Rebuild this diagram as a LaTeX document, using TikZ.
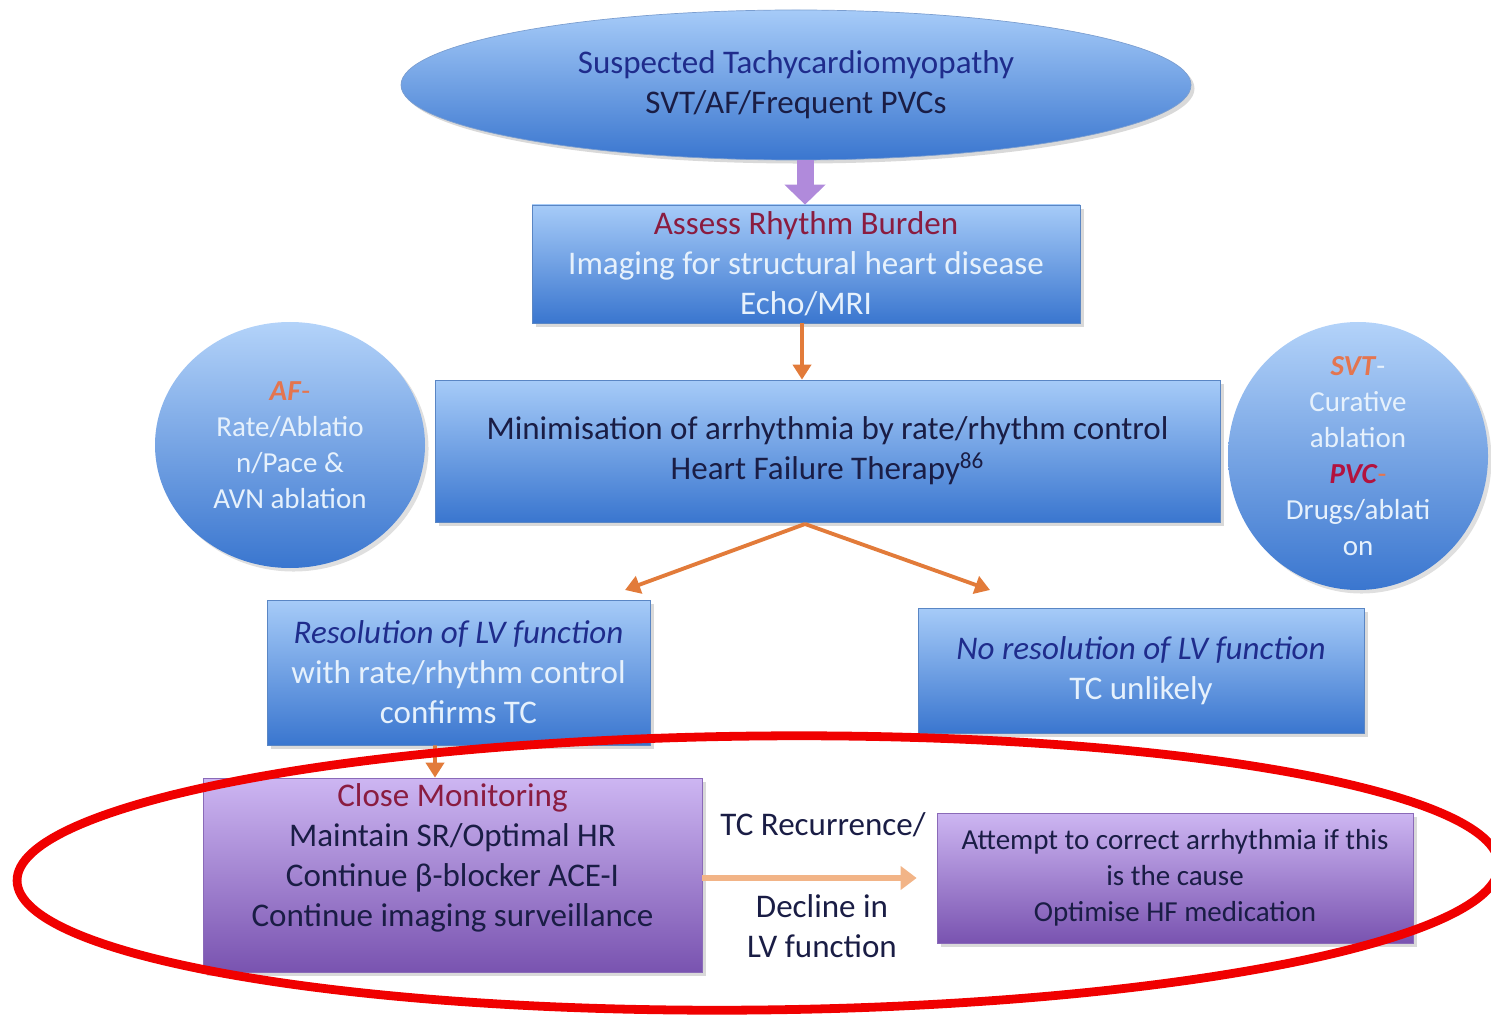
\documentclass[tikz,border=0pt]{standalone}
\usepackage{fontspec}
\setmainfont{Carlito}
\usetikzlibrary{arrows.meta,positioning,shadows,shapes.geometric}
\definecolor{boxtop}{HTML}{A6CBF8}
\definecolor{boxbot}{HTML}{3A76CF}
\definecolor{boxline}{HTML}{5A86C4}
\definecolor{liltop}{HTML}{CDB6F2}
\definecolor{lilbot}{HTML}{7953B0}
\definecolor{lilline}{HTML}{8A6AB8}
\definecolor{navy}{HTML}{1F2C8C}
\definecolor{ink}{HTML}{1A1D45}
\definecolor{maroon}{HTML}{8A1C40}
\definecolor{pale}{HTML}{E6F1FC}
\definecolor{coral}{HTML}{E4754F}
\definecolor{crimson}{HTML}{B3123E}
\definecolor{arrorange}{HTML}{E27B3A}
\definecolor{arrpeach}{HTML}{F2B487}
\definecolor{arrlilac}{HTML}{B08ADB}
\definecolor{marker}{HTML}{F00000}
\tikzset{
  main font/.style={font=\fontsize{18.8}{22.7}\selectfont},
  side font/.style={font=\fontsize{16.5}{20.4}\selectfont},
  blue box/.style={rectangle,top color=boxtop,bottom color=boxbot,draw=boxline,
    inner sep=0pt,align=center,main font,text=ink,
    drop shadow={shadow xshift=2pt,shadow yshift=-2pt,opacity=0.3}},
  lilac box/.style={blue box,top color=liltop,bottom color=lilbot,draw=lilline},
  side disc/.style={ellipse,top color=boxtop!85!white,bottom color=boxbot,draw=none,
    inner sep=-5mm,align=center,side font,text=pale,
    drop shadow={shadow xshift=2pt,shadow yshift=-2pt,opacity=0.25}},
  flow arrow/.style={-{Triangle[length=3mm,width=3.6mm]},arrorange,line width=2.2pt},
  lilac arrow/.style={-{Triangle[length=4mm,width=8mm]},arrlilac,line width=3.4mm},
  peach arrow/.style={-{Triangle[length=3.2mm,width=4.6mm]},arrpeach,line width=3pt},
  red ring/.style={marker,line width=5pt},
}

\begin{document}
\begin{tikzpicture}
  \useasboundingbox (0,0) rectangle (29.82,-20.30);
  % top of the flow
  \node[blue box,ellipse,minimum width=15.8cm,minimum height=3cm,draw=boxline!80]
    (suspect) at (15.92,-1.70)
    {\textcolor{navy}{Suspected Tachycardiomyopathy}\\SVT/AF/Frequent PVCs};
  \node[blue box,minimum width=10.96cm,minimum height=2.36cm] (assess) at (16.12,-5.28)
    {\textcolor{maroon}{Assess Rhythm Burden}\\
     \textcolor{pale}{Imaging for structural heart disease}\\
     \textcolor{pale}{Echo/MRI}};
  \node[blue box,minimum width=15.7cm,minimum height=2.84cm] (minim) at (16.55,-9.02)
    {Minimisation of arrhythmia by rate/rhythm control\\
     Heart Failure Therapy\textsuperscript{86}};
  \node[side disc,minimum width=5.4cm,minimum height=4.92cm] (afdisc) at (5.8,-8.9)
    {\textcolor{coral}{\textbf{\textit{AF}}-}\\Rate/Ablatio\\n/Pace \&\\AVN ablation};
  \node[side disc,minimum width=5.2cm,minimum height=5.36cm] (svtdisc) at (27.16,-9.12)
    {\textcolor{coral}{\textbf{\textit{SVT}}}-\\Curative\\ablation\\
     \textcolor{crimson}{\textbf{\textit{PVC}}}\textcolor{coral}{-}\\Drugs/ablati\\on};
  % outcomes
  \node[blue box,minimum width=7.66cm,minimum height=2.9cm] (resol) at (9.17,-13.45)
    {\textcolor{navy}{\textit{Resolution of LV function}}\\
     \textcolor{pale}{with rate/rhythm control}\\
     \textcolor{pale}{confirms TC}};
  \node[blue box,minimum width=8.92cm,minimum height=2.5cm] (noresol) at (22.82,-13.41)
    {\textcolor{navy}{\textit{No resolution of LV function}}\\
     \textcolor{pale}{TC unlikely}};
  \node[lilac box,minimum width=9.98cm,minimum height=3.88cm] (monitor) at (9.05,-17.5)
    {\textcolor{maroon}{Close Monitoring}\\
     Maintain SR/Optimal HR\\
     Continue β-blocker ACE-I\\
     Continue imaging surveillance\\\mbox{}};
  \node[lilac box,side font,minimum width=9.52cm,minimum height=2.6cm] (attempt) at (23.5,-17.56)
    {Attempt to correct arrhythmia if this\\is the cause\\Optimise HF medication};
  \node[main font,text=ink] (recur) at (16.46,-16.5) {TC Recurrence/};
  \node[main font,text=ink,align=center] (decline) at (16.44,-18.52) {Decline in\\LV function};
  % connectors
  \coordinate (split) at (16.1,-10.48);
  \coordinate (resoltip) at (12.5,-11.8);
  \coordinate (noresoltip) at (19.8,-11.8);
  \draw[lilac arrow] ([xshift=1.8mm]suspect.south) -- ([xshift=1.8mm]suspect.south |- assess.north);
  \draw[flow arrow] ([xshift=-0.08cm]assess.south) -- ([xshift=-0.08cm]assess.south |- minim.north);
  \draw[flow arrow] (split) -- (resoltip);
  \draw[flow arrow] (split) -- (noresoltip);
  \draw[flow arrow] ([xshift=-0.47cm]resol.south) -- ([xshift=-0.35cm]monitor.north);
  \draw[peach arrow,shorten >=4mm] (monitor.east |- attempt.west) -- (attempt.west);
  % highlight ring
  \draw[red ring,rotate around={0.6:(15.16,-17.46)}] (15.16,-17.46) ellipse [x radius=14.82, y radius=2.74];
\end{tikzpicture}
\end{document}
